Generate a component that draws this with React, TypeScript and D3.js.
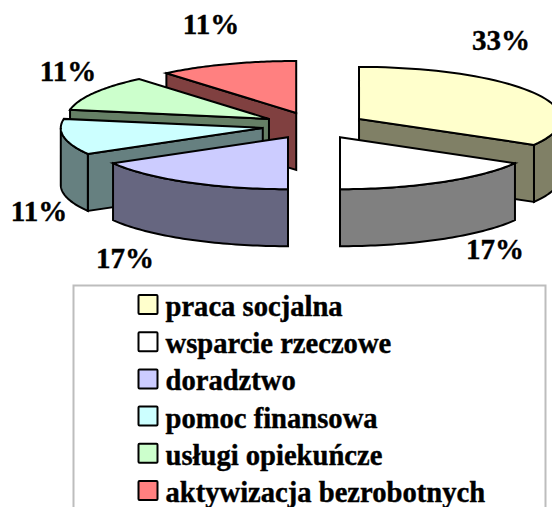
import React from "react";
import * as d3 from "d3";

const categories = ["praca socjalna", "wsparcie rzeczowe", "doradztwo", "pomoc finansowa", "usługi opiekuńcze", "aktywizacja bezrobotnych"];
const values = [33.33, 16.67, 16.67, 11.11, 11.11, 11.11];
const topColors = ["#FFFFCC", "#FFFFFF", "#CCCCFF", "#CCFFFF", "#CCFFCC", "#FF8080"];
const wallColors = ["#808066", "#808080", "#666680", "#668080", "#668066", "#804040"];
const percentLabels = ["33%", "17%", "17%", "11%", "11%", "11%"];
const labelPos: [number, number][] = [[501, 50], [495, 259], [125, 268], [39, 221], [68, 81], [211, 34]];
const drawOrder = [5, 4, 3, 2, 0, 1];

const W = 552, H = 507;
const cx = 314, cy = 125.6, rx = 202, ry = 52, depth = 57, explode = 52, explodeY = 13.4;
const font = "'Liberation Serif', 'Times New Roman', serif";

const arcs = d3.pie<number>().sort(null).value((d) => d)(values);
const line = d3.line<[number, number]>();

function pointAt(ox: number, oy: number, a: number): [number, number] {
  return [ox + rx * Math.sin(a), oy - ry * Math.cos(a)];
}
function rim(ox: number, oy: number, a0: number, a1: number): [number, number][] {
  const n = 48;
  return d3.range(n + 1).map((i) => pointAt(ox, oy, a0 + ((a1 - a0) * i) / n));
}

function Slice({ i }: { i: number }) {
  const { startAngle: a0, endAngle: a1 } = arcs[i];
  const mid = (a0 + a1) / 2;
  const ox = cx + explode * Math.sin(mid);
  const oy = cy - explodeY * Math.cos(mid);
  const top = rim(ox, oy, a0, a1);
  const walls: string[] = [];
  // radial wall, when the edge faces the viewer
  const radial = a1 < Math.PI * 0.9 ? a1 : a0 > Math.PI * 1.1 ? a0 : null;
  if (radial !== null) {
    const p = pointAt(ox, oy, radial);
    walls.push(line([p, [ox, oy], [ox, oy + depth], [p[0], p[1] + depth]])! + "Z");
  }
  // outer rim wall, on the lower half of the ellipse
  const lo = Math.max(a0, Math.PI / 2);
  const hi = Math.min(a1, (Math.PI * 3) / 2);
  if (hi > lo) {
    const r = rim(ox, oy, lo, hi);
    const b = r.slice().reverse().map(([x, y]) => [x, y + depth] as [number, number]);
    walls.push(line([...r, ...b])! + "Z");
  }
  const topPath = line([[ox, oy], ...top])! + "Z";
  return (
    <g stroke="#000" strokeWidth={2} strokeLinejoin="miter">
      {walls.map((d, k) => <path key={k} d={d} fill={wallColors[i]} />)}
      <path d={topPath} fill={topColors[i]} />
    </g>
  );
}

export default function App() {
  const legendY = d3.scalePoint<string>().domain(categories).range([295, 481]);
  return (
    <svg width={W} height={H} viewBox={`0 0 ${W} ${H}`} style={{ position: "fixed", left: 0, top: 0, background: "#fff" }} fontFamily={font}>
      {drawOrder.map((i) => <Slice key={i} i={i} />)}
      {percentLabels.map((t, i) => (
        <text key={i} x={labelPos[i][0]} y={labelPos[i][1]} textAnchor="middle" fontWeight="bold" fontSize={29} fill="#000" stroke="#000" strokeWidth={0.4}>{t}</text>
      ))}
      <path d={`M73.5 ${H}V285.5H545.5V${H}`} fill="none" stroke="#BDBDBD" strokeWidth={2} />
      {categories.map((c, i) => {
        const y = legendY(c)!;
        return (
          <g key={c}>
            <rect x={138.5} y={y} width={19} height={19} rx={1} fill={topColors[i]} stroke="#000" strokeWidth={2} />
            <text x={165.5} y={y + 21} fontWeight="bold" fontSize={28.6} fill="#000" stroke="#000" strokeWidth={0.4}>{c}</text>
          </g>
        );
      })}
    </svg>
  );
}
